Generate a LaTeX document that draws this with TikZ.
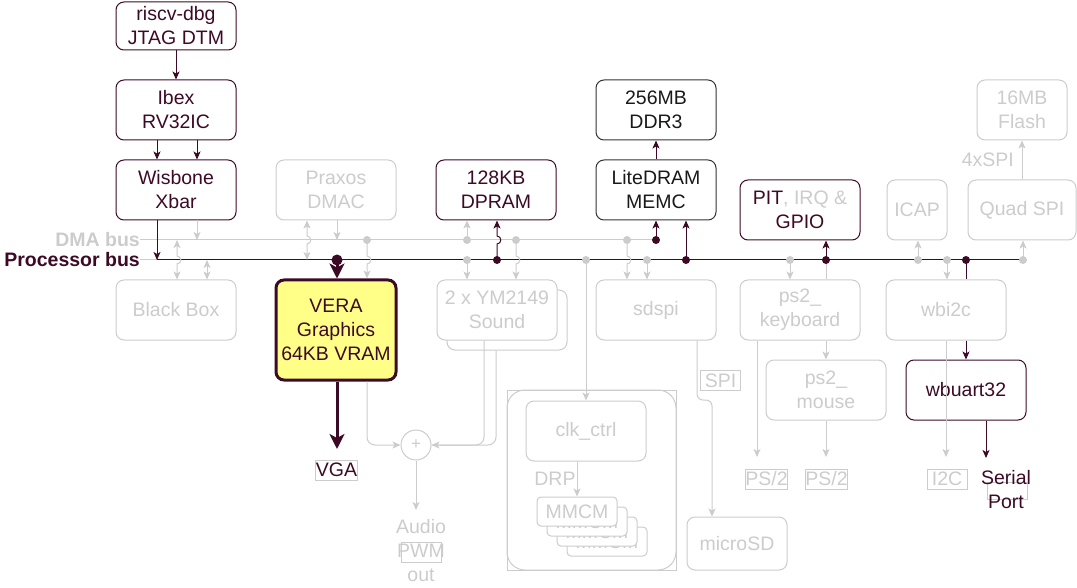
\documentclass[tikz,border=0pt]{standalone}
\usepackage{fontspec}
\setmainfont{Liberation Sans}
\usetikzlibrary{arrows.meta}
\definecolor{dk}{HTML}{3D0A26}
\definecolor{gr}{HTML}{CCCCCC}
\definecolor{mk}{HTML}{333333}
\definecolor{vy}{HTML}{FFFF88}
\newcommand{\bigtxt}{\fontsize{19.5}{24}\selectfont}
\tikzset{
  blk/.style={draw=dk, text=dk, fill=white, rounded corners=8pt, minimum width=120pt, minimum height=60pt, align=center, line width=1pt, inner sep=0pt},
  gblk/.style={blk, draw=gr, text=gr},
  mblk/.style={blk, draw=mk, text=black!90},
  tag/.style={draw=gr, line width=1pt, minimum width=40pt, minimum height=20pt, inner sep=0pt},
  dline/.style={draw=dk, line width=1pt},
  gline/.style={draw=gr, line width=1pt},
  fat/.style={draw=dk, line width=3pt, -{Stealth[length=15pt,width=15pt,inset=4pt]}},
}
\begin{document}
\begin{tikzpicture}[x=1pt, y=-1pt, >={Stealth[length=8pt,width=7pt,inset=2pt]}, font=\bigtxt]
  \useasboundingbox (0,0) rectangle (1077,588);
  \node[blk, minimum height=48pt] (dbg) at (176,26) {riscv-dbg\\JTAG DTM};
  \node[blk] (ibex) at (176,110) {Ibex\\RV32IC};
  \node[blk] (xbar) at (176,190) {Wisbone\\Xbar};
  \node[gblk] (dmac) at (336,190) {Praxos\\DMAC};
  \node[blk] (dpram) at (496,190) {128KB\\DPRAM};
  \node[mblk] (ddr) at (656,110) {256MB\\DDR3};
  \node[mblk] (memc) at (656,190) {LiteDRAM\\MEMC};
  \node[blk] (pit) at (800,210) {PIT{\color{gr}, IRQ \&}\\GPIO};
  \node[gblk, minimum width=60pt] (icap) at (917,210) {ICAP};
  \node[gblk, minimum width=108pt] (qspi) at (1022,210) {Quad SPI};
  \node[gblk, minimum width=90pt] (flash) at (1022,110) {16MB\\Flash};
  \node[gblk] (bbox) at (176,310) {Black Box};
  \node[blk, fill=vy, line width=3pt, minimum height=100pt] (vera) at (336,330) {VERA\\Graphics\\64KB VRAM};
  \node[gblk] (ym2) at (507,320) {};
  \node[gblk] (ym) at (497,310) {2 x YM2149\\Sound};
  \node[gblk] (sdspi) at (656,310) {sdspi};
  \node[gblk] (kbd) at (800,310) {ps2\_\\keyboard};
  \node[gblk] (mouse) at (826,390) {ps2\_\\mouse};
  \node[gblk] (wbi2c) at (946,310) {wbi2c};
  \node[blk] (uart) at (966,390) {wbuart32};
  \draw[gline] (507,390) rectangle (676,570);
  \draw[gline, rounded corners=18pt] (507,390) rectangle (676,570);
  \node[gblk] (clk) at (586,431) {clk\_ctrl};
  \foreach \i in {3,2,1,0}
    \node[gblk, minimum width=80pt, minimum height=29pt, rounded corners=4pt] (mmcm\i) at (577+10*\i,511.5+10*\i) {MMCM};
  \node[text=gr, inner sep=0pt] (drp) at (555,479) {DRP};
  \node[gblk, minimum width=100pt, minimum height=53pt] (sd) at (737,543.5) {microSD};
  \node[circle, draw=gr, line width=1pt, minimum size=30pt, inner sep=0pt, text=gr, font=\fontsize{17}{17}\selectfont] (mix) at (416,445) {+};

  \node[anchor=east, inner xsep=0pt, text=gr, font=\bigtxt\bfseries] (dmalbl) at (140,240) {DMA bus};
  \node[anchor=east, inner xsep=0pt, text=dk, font=\bigtxt\bfseries] (cpulbl) at (140,260) {Processor bus};
  \node[anchor=east, inner xsep=0pt, text=gr] (spi4) at (1014,160) {4xSPI};
  \node[tag, text=dk] (vga) at (336.5,470) {VGA};
  \node[tag, text=gr] (spi) at (720.5,380.5) {SPI};
  \node[tag, text=gr] (ps2a) at (766.5,479) {PS/2};
  \node[tag, text=gr] (ps2b) at (826.5,479) {PS/2};
  \node[tag, text=gr] (i2c) at (947,479) {I2C};
  \node[tag] (pwmbox) at (421.5,552) {};
  \node[text=gr, align=center, inner sep=0pt] (audio) at (421,551) {Audio\\PWM\\out};
  \node[tag, minimum height=17pt] (serbox) at (1007,491) {};
  \node[text=dk, align=center, inner sep=0pt] (serial) at (1006,490) {Serial\\Port};

  \draw[gline] (dmalbl.east) -- (656,240);
  \draw[gline] (cpulbl.east) -- (157,260);
  \draw[dline] (157,260) -- (1023,260);

  \draw[dline,->] (dbg) -- (ibex);
  \draw[dline,->] (157,0 |- ibex.south) -- (157,0 |- xbar.north);
  \draw[dline,->] (197,0 |- ibex.south) -- (197,0 |- xbar.north);
  \draw[dline,->] (157,0 |- xbar.south) -- (157,260);
  \draw[dline,->] (497,260) -- (497,244) .. controls (502,244) and (502,236) .. (497,236) -- (497,0 |- dpram.south);
  \draw[dline,->] (656,240) -- (memc.south);
  \draw[dline,->] (686,260) -- (686,0 |- memc.south);
  \draw[dline,->] (memc) -- (ddr);
  \draw[dline,->] (826,260) -- (826,0 |- pit.south);
  \draw[dline] (966,260) -- (966,0 |- wbi2c.north);
  \draw[dline,->] (966,0 |- wbi2c.south) -- (uart.north);
  \draw[dline,->] (986,0 |- uart.south) -- (986,458);
  \draw[fat] (337,260) -- (337,0 |- vera.north);
  \draw[fat] (337,0 |- vera.south) -- (337,449);

  \draw[gline,->] (197,0 |- xbar.south) -- (197,240);
  \draw[gline,<->] (177,240) -- (177,256) .. controls (182,256) and (182,264) .. (177,264) -- (177,0 |- bbox.north);
  \draw[gline,<->] (207,260) -- (207,0 |- bbox.north);
  \draw[gline,<->] (307,0 |- dmac.south) -- (307,236) .. controls (312,236) and (312,244) .. (307,244) -- (307,260);
  \draw[gline,->] (337,0 |- dmac.south) -- (337,240);
  \draw[gline,->] (367,240) -- (367,256) .. controls (372,256) and (372,264) .. (367,264) -- (367,0 |- vera.north);
  \draw[gline,->] (467,240) -- (467,0 |- dpram.south);
  \draw[gline,->] (467,260) -- (467,0 |- ym.north);
  \draw[gline,->] (516,240) -- (516,256) .. controls (521,256) and (521,264) .. (516,264) -- (516,0 |- ym.north);
  \draw[gline,->] (586,260) -- (586,0 |- clk.north);
  \draw[gline,->] (627,240) -- (627,256) .. controls (632,256) and (632,264) .. (627,264) -- (627,0 |- sdspi.north);
  \draw[gline,->] (647,260) -- (647,0 |- sdspi.north);
  \draw[gline,->] (790,260) -- (790,0 |- kbd.north);
  \draw[gline] (826,260) -- (826,0 |- kbd.north);
  \draw[gline,->] (918,260) -- (918,0 |- icap.south);
  \draw[gline,->] (947,260) -- (947,0 |- wbi2c.north);
  \draw[gline,->] (1023,260) -- (1023,0 |- qspi.south);
  \draw[gline,->] (qspi) -- (flash);
  \draw[gline,->,rounded corners=8pt] (367,0 |- vera.south) |- (mix.west);
  \draw[gline,rounded corners=8pt] (496,0 |- ym2.south) |- (mix.east);
  \draw[gline,->,rounded corners=8pt] (484,0 |- ym.south) |- (mix.east);
  \draw[gline,->] (mix.south) -- (416,510);
  \draw[gline,->,rounded corners=6pt] (697,0 |- sdspi.south) -- (697,400) -- (712,400) -- (712,0 |- sd.north);
  \draw[gline,->] (577,0 |- clk.south) -- (577,0 |- mmcm0.north);
  \draw[gline,->] (757,0 |- kbd.south) -- (757,457);
  \draw[gline,->] (826,0 |- kbd.south) -- (mouse.north);
  \draw[gline,->] (mouse.south) -- (826,457);
  \draw[gline,->] (946,0 |- wbi2c.south) -- (946,457);

  \foreach \x in {367,467,516,627} \fill[gr] (\x,240) circle[radius=4];
  \foreach \x in {467,586,647,790,918,947,1023} \fill[gr] (\x,260) circle[radius=4];
  \fill[dk] (656,240) circle[radius=4];
  \foreach \x in {497,686,826,966} \fill[dk] (\x,260) circle[radius=4];
  \fill[dk] (337,260) circle[radius=5.5];
\end{tikzpicture}
\end{document}
